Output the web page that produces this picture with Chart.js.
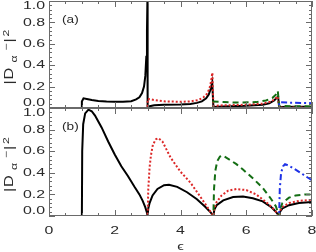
<!DOCTYPE html>
<html>
<head>
<meta charset="utf-8">
<script src="https://cdn.jsdelivr.net/npm/chart.js@4.4.1/dist/chart.umd.min.js"></script>
<style>
html, body { margin: 0; padding: 0; background: #fff; }
#wrap { position: relative; width: 316px; height: 252px; }
canvas { position: absolute; left: 0; top: 0; }
</style>
</head>
<body>
<div id="wrap">
  <canvas id="panelB" width="316" height="252"></canvas>
  <canvas id="panelA" width="316" height="252"></canvas>
</div>
<script>
// ---- ticks ----
const xTicks = [0, 2, 4, 6, 8];
const xTickLabels = ['0', '2', '4', '6', '8'];
const yTicks = [0, 0.2, 0.4, 0.6, 0.8, 1.0];
const yTickLabels = ['0.0', '0.2', '0.4', '0.6', '0.8', '1.0'];
const xMinorStep = 0.5;
const yMinorStep = 0.04;

// ---- panel (a) ----
const aBlackX = [0, 1, 1, 1.05, 1.15, 1.3, 1.5, 1.75, 2.0, 2.25, 2.5, 2.65, 2.75, 2.83, 2.89, 2.93, 2.96, 2.98, 2.993, 3.0, 3.03, 3.2, 3.5, 4.0, 4.3, 4.5, 4.65, 4.78, 4.86, 4.92, 4.965, 5.0, 5.3, 6.0, 6.5, 6.7, 6.85, 6.93, 6.97, 7.0, 7.5, 8.0];
const aBlackY = [0, 0, 0.06, 0.09, 0.085, 0.075, 0.066, 0.06, 0.058, 0.058, 0.064, 0.08, 0.1, 0.14, 0.2, 0.3, 0.48, 0.72, 1.0, 0.0, 0.015, 0.025, 0.03, 0.032, 0.038, 0.048, 0.062, 0.09, 0.125, 0.18, 0.24, 0.01, 0.015, 0.02, 0.03, 0.045, 0.07, 0.095, 0.105, 0.01, 0.012, 0.012];

const aRedX = [0, 3, 3, 3.2, 3.5, 4.0, 4.3, 4.55, 4.7, 4.8, 4.88, 4.93, 4.97, 5.0, 5.3, 6.0, 6.5, 6.75, 6.88, 6.96, 7.0, 8.0];
const aRedY = [0, 0, 0.085, 0.075, 0.062, 0.058, 0.062, 0.075, 0.1, 0.13, 0.18, 0.25, 0.33, 0.02, 0.025, 0.03, 0.04, 0.06, 0.085, 0.11, 0.005, 0.005];

const aGreenX = [0, 5, 5, 5.3, 5.8, 6.3, 6.6, 6.8, 6.9, 6.96, 7.0, 7.5, 8.0];
const aGreenY = [0, 0, 0.06, 0.055, 0.05, 0.055, 0.07, 0.095, 0.125, 0.16, 0.02, 0.016, 0.015];

const aBlueX = [0, 7, 7, 7.3, 7.7, 8.0];
const aBlueY = [0, 0, 0.055, 0.05, 0.047, 0.045];

// ---- panel (b) ----
const bBlackX = [0, 1, 1.01, 1.04, 1.1, 1.2, 1.3, 1.4, 1.6, 1.8, 2.0, 2.2, 2.4, 2.6, 2.75, 2.85, 2.93, 2.98, 3.0, 3.02, 3.06, 3.15, 3.3, 3.5, 3.65, 3.9, 4.2, 4.5, 4.75, 4.9, 5.0, 5.03, 5.1, 5.3, 5.6, 5.9, 6.2, 6.5, 6.75, 6.9, 7.0, 7.03, 7.1, 7.3, 7.6, 8.0];
const bBlackY = [0, 0, 0.6, 0.85, 0.95, 0.985, 0.97, 0.93, 0.82, 0.69, 0.57, 0.46, 0.37, 0.27, 0.2, 0.14, 0.08, 0.03, 0, 0.07, 0.12, 0.19, 0.25, 0.285, 0.29, 0.27, 0.22, 0.155, 0.085, 0.04, 0, 0.06, 0.1, 0.145, 0.175, 0.18, 0.165, 0.135, 0.085, 0.04, 0, 0.04, 0.07, 0.1, 0.12, 0.13];

const bRedX = [0, 3, 3.02, 3.06, 3.1, 3.16, 3.25, 3.33, 3.45, 3.7, 4.0, 4.3, 4.6, 4.8, 4.93, 5.0, 5.03, 5.1, 5.25, 5.45, 5.7, 6.0, 6.3, 6.6, 6.85, 7.0, 7.03, 7.1, 7.3, 7.6, 8.0];
const bRedY = [0, 0, 0.25, 0.45, 0.56, 0.66, 0.71, 0.72, 0.69, 0.54, 0.41, 0.31, 0.18, 0.09, 0.03, 0, 0.07, 0.13, 0.19, 0.235, 0.25, 0.24, 0.2, 0.13, 0.06, 0, 0.05, 0.085, 0.12, 0.14, 0.15];

const bGreenX = [0, 5, 5.02, 5.06, 5.12, 5.2, 5.28, 5.45, 5.7, 5.9, 6.2, 6.5, 6.75, 6.9, 7.0, 7.03, 7.1, 7.3, 7.5, 7.8, 8.0];
const bGreenY = [0, 0, 0.25, 0.42, 0.51, 0.55, 0.56, 0.53, 0.48, 0.43, 0.35, 0.26, 0.16, 0.09, 0, 0.07, 0.12, 0.17, 0.19, 0.2, 0.2];

const bBlueX = [0, 7, 7.02, 7.06, 7.12, 7.18, 7.3, 7.5, 7.75, 8.0];
const bBlueY = [0, 0, 0.25, 0.4, 0.46, 0.48, 0.465, 0.43, 0.38, 0.33];

const inkColor = '#2a2a2a';
const frameColor = '#6a6a6a';
const textFont = '"Liberation Sans"';

function pts(xs, ys) {
  return xs.map((x, i) => ({ x: x, y: ys[i] }));
}

function stretchText(ctx, txt, x, y, align, size, sx) {
  ctx.save();
  ctx.font = size + 'px ' + textFont;
  const w = ctx.measureText(txt).width * sx;
  let x0 = x;
  if (align === 'center') x0 = x - w / 2;
  else if (align === 'right') x0 = x - w;
  ctx.translate(x0, y);
  ctx.scale(sx, 1);
  ctx.textAlign = 'left';
  ctx.textBaseline = 'middle';
  ctx.fillStyle = inkColor;
  ctx.fillText(txt, 0, 0);
  ctx.restore();
}

function isMajor(v, list) {
  return list.some(t => Math.abs(t - v) < 1e-6);
}

function drawYTitle(ctx, cx, cy) {
  ctx.save();
  ctx.translate(cx, cy);
  ctx.rotate(-Math.PI / 2);
  // [text, start along text, size, offset across text]
  const parts = [['|', -26, 12, 0], ['D', -21, 12, 0], ['α', -4, 9, 5.5], ['−', 8, 9, -3], ['|', 16, 12, 0], ['2', 22, 9, -3]];
  parts.forEach(p => stretchText(ctx, p[0], p[1], p[3], 'left', p[2], 1.35));
  ctx.restore();
}

// inward IDL-style ticks, frame and labels
const idlAxes = {
  id: 'idlAxes',
  afterDraw(chart, args, opts) {
    const ctx = chart.ctx, a = chart.chartArea;
    const xs = chart.scales.x, ys = chart.scales.y;
    ctx.save();
    ctx.strokeStyle = frameColor;
    ctx.lineWidth = 1;
    ctx.strokeRect(a.left + 0.5, a.top + 0.5, a.right - a.left - 1, a.bottom - a.top - 1);
    ctx.beginPath();
    for (let v = xs.min; v <= xs.max + 1e-9; v += xMinorStep) {
      const px = Math.round(xs.getPixelForValue(v)) + 0.5;
      const len = isMajor(v, xTicks) ? 6 : 3;
      ctx.moveTo(px, a.bottom); ctx.lineTo(px, a.bottom - len);
      ctx.moveTo(px, a.top); ctx.lineTo(px, a.top + len);
    }
    for (let v = ys.min; v <= ys.max + 1e-9; v += yMinorStep) {
      const py = Math.round(ys.getPixelForValue(v)) + 0.5;
      const len = isMajor(v, yTicks) ? 6 : 3;
      ctx.moveTo(a.left, py); ctx.lineTo(a.left + len, py);
      ctx.moveTo(a.right, py); ctx.lineTo(a.right - len, py);
    }
    ctx.stroke();
    ctx.restore();

    yTicks.forEach((v, i) => {
      let py = ys.getPixelForValue(v);
      py = Math.min(Math.max(py, a.top + 5), a.bottom - 5);
      stretchText(ctx, yTickLabels[i], 45, py, 'right', 11.5, 1.38);
    });
    if (opts.xLabels) {
      xTicks.forEach((v, i) => {
        stretchText(ctx, xTickLabels[i], xs.getPixelForValue(v), 231, 'center', 11.5, 1.38);
      });
      stretchText(ctx, 'ϵ', xs.getPixelForValue(4), 247, 'center', 11.5, 1.3);
    }
    stretchText(ctx, opts.tag, 62, a.top + 19, 'left', 10.5, 1.3);
    drawYTitle(ctx, 9.5, (a.top + a.bottom) / 2 + 4);
  }
};

function series(data, color, dash, width, order) {
  return {
    data: data,
    borderColor: color,
    borderWidth: width,
    borderDash: dash,
    showLine: true,
    pointRadius: 0,
    tension: 0,
    fill: false,
    order: order
  };
}

function makePanel(id, sets, pad, tag, xLabels) {
  return new Chart(document.getElementById(id), {
    type: 'scatter',
    data: {
      datasets: [
        series(pts(sets[0][0], sets[0][1]), '#000', [], 2, 4),
        series(pts(sets[1][0], sets[1][1]), 'rgb(220,40,40)', [2, 2], 2, 3),
        series(pts(sets[2][0], sets[2][1]), 'rgb(20,110,20)', [6, 4], 2, 2),
        series(pts(sets[3][0], sets[3][1]), 'rgb(30,50,230)', [6, 3, 2, 3], 2, 1)
      ]
    },
    options: {
      responsive: false,
      animation: false,
      devicePixelRatio: 1,
      layout: { padding: pad },
      plugins: { legend: { display: false }, tooltip: { enabled: false }, idlAxes: { tag: tag, xLabels: xLabels } },
      scales: {
        x: { type: 'linear', min: 0, max: 8, display: false, ticks: { stepSize: 2 } },
        y: { type: 'linear', min: 0, max: 1, display: false, ticks: { stepSize: 0.2 } }
      }
    },
    plugins: [idlAxes]
  });
}

makePanel('panelA', [[aBlackX, aBlackY], [aRedX, aRedY], [aGreenX, aGreenY], [aBlueX, aBlueY]],
  { left: 49, right: 4, top: 1, bottom: 144 }, '(a)', false);
makePanel('panelB', [[bBlackX, bBlackY], [bRedX, bRedY], [bGreenX, bGreenY], [bBlueX, bBlueY]],
  { left: 49, right: 4, top: 108, bottom: 36 }, '(b)', true);
</script>
</body>
</html>
